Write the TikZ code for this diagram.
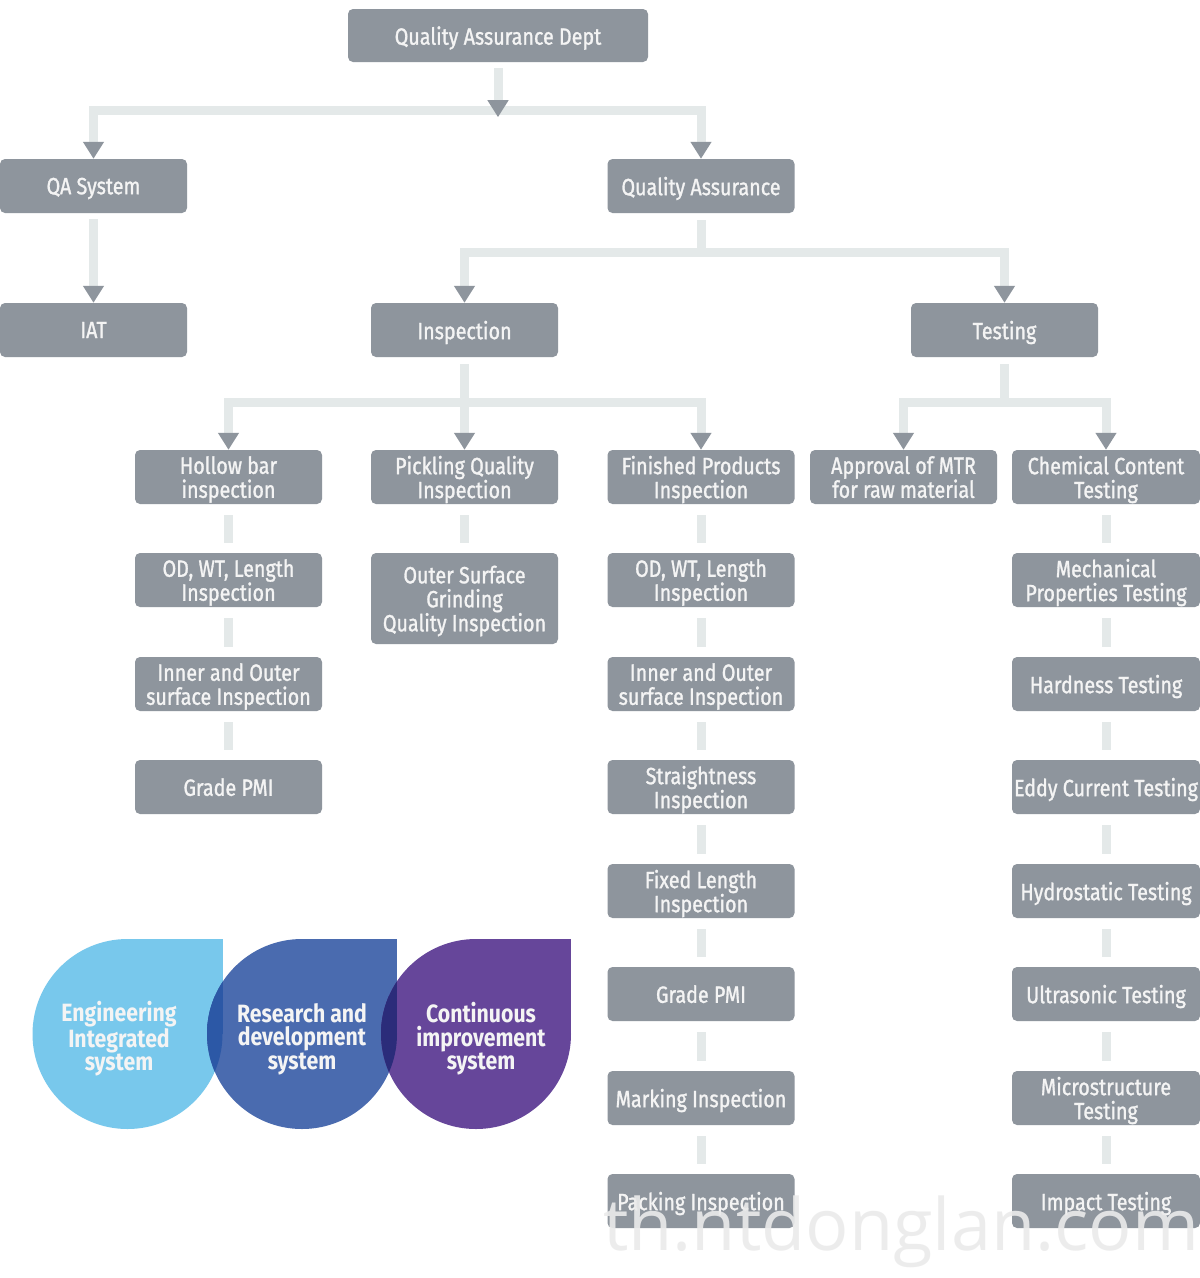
\documentclass[tikz,border=0pt]{standalone}
\usepackage{fontspec}
\setmainfont{Fira Sans}[FakeStretch=0.85]
\newfontfamily\boxfont{Fira Sans}[FakeStretch=0.84,FakeBold=1.2]
\newfontfamily\wmfont{Open Sans}
\usetikzlibrary{arrows.meta,calc}
\definecolor{boxgrey}{HTML}{8E959D}
\definecolor{conngrey}{HTML}{E4E9E9}
\definecolor{txtwhite}{HTML}{F4F4F4}
\definecolor{dropA}{HTML}{78C8EC}
\definecolor{dropB}{HTML}{4A6BAF}
\definecolor{dropC}{HTML}{66469A}
\definecolor{ovAB}{HTML}{2C58A6}
\definecolor{ovBC}{HTML}{2B2C7A}
\newcommand\tdropshape[3]{%
  \fill[#3] (#1,#2) circle[radius=95];
  \fill[#3] (#1,#2-95) rectangle (#1+95,#2);}
\begin{document}
\begin{tikzpicture}[x=1pt,y=-1pt,
  box/.style={fill=boxgrey, rounded corners=5pt, minimum width=187pt, minimum height=54pt,
    inner sep=0pt, align=center, text=txtwhite, text depth=0pt, font=\boxfont\fontsize{23.5}{24}\selectfont},
  conn/.style={draw=conngrey, line width=9pt},
  tipped/.style={-{Triangle[width=20pt,length=17pt,color=boxgrey]}},
  droptext/.style={align=center, text=txtwhite, font=\bfseries\fontsize{25}{23.5}\selectfont, inner sep=0pt},
]
\useasboundingbox (0,0) rectangle (1200,1278);
\fill[white] (0,0) rectangle (1200,1278);

% ---------- nodes ----------
\node[box, minimum width=300pt, minimum height=53pt] (top) at (498,35.5) {Quality Assurance Dept};
\node[box] (qasys) at (93.5,186) {QA System};
\node[box] (qa) at (701,186) {Quality Assurance};
\node[box] (iat) at (93.5,330) {IAT};
\node[box] (insp) at (464.5,330) {Inspection};
\node[box] (test) at (1004.5,330) {Testing};

\node[box] (hb1) at (228.5,477) {Hollow bar\\inspection};
\node[box] (hb2) at (228.5,580) {OD, WT, Length\\Inspection};
\node[box] (hb3) at (228.5,684) {Inner and Outer\\surface Inspection};
\node[box] (hb4) at (228.5,787) {Grade PMI};

\node[box] (pk1) at (464.5,477) {Pickling Quality\\Inspection};
\node[box, minimum height=91pt] (pk2) at (464.5,598.5) {Outer Surface\\Grinding\\Quality Inspection};

\node[box] (fp1) at (701,477) {Finished Products\\Inspection};
\node[box] (fp2) at (701,580) {OD, WT, Length\\Inspection};
\node[box] (fp3) at (701,684) {Inner and Outer\\surface Inspection};
\node[box] (fp4) at (701,787) {Straightness\\Inspection};
\node[box] (fp5) at (701,891) {Fixed Length\\Inspection};
\node[box] (fp6) at (701,994) {Grade PMI};
\node[box] (fp7) at (701,1098) {Marking Inspection};
\node[box] (fp8) at (701,1201) {Packing Inspection};

\node[box] (mtr) at (903.5,477) {Approval of MTR\\for raw material};

\node[box, minimum width=188pt] (ch1) at (1106,477) {Chemical Content\\Testing};
\node[box, minimum width=188pt] (ch2) at (1106,580) {Mechanical\\Properties Testing};
\node[box, minimum width=188pt] (ch3) at (1106,684) {Hardness Testing};
\node[box, minimum width=188pt] (ch4) at (1106,787) {Eddy Current Testing};
\node[box, minimum width=188pt] (ch5) at (1106,891) {Hydrostatic Testing};
\node[box, minimum width=188pt] (ch6) at (1106,994) {Ultrasonic Testing};
\node[box, minimum width=188pt] (ch7) at (1106,1098) {Microstructure\\Testing};
\node[box, minimum width=188pt] (ch8) at (1106,1201) {Impact Testing};

% ---------- connectors ----------
\coordinate (bar1) at ($(top.south)+(0,48)$);
\draw[conn,tipped] (bar1) -| (qasys.north);
\draw[conn,tipped] (bar1) -| (qa.north);
\draw[conn,tipped,shorten <=6pt,shorten >=-7pt] (top.south) -- (bar1);

\draw[conn,tipped,shorten <=6pt] (qasys.south) -- (iat.north);

\coordinate (bar2) at ($(qa.south)+(0,39)$);
\draw[conn,shorten <=7pt] (qa.south) -- (bar2);
\draw[conn,tipped] (bar2) -| (insp.north);
\draw[conn,tipped] (bar2) -| (test.north);

\coordinate (bar3) at ($(insp.south)+(0,45)$);
\draw[conn,shorten <=7pt] (insp.south) -- (bar3);
\draw[conn,tipped] (bar3) -| (hb1.north);
\draw[conn,tipped] (bar3) -- (pk1.north);
\draw[conn,tipped] (bar3) -| (fp1.north);

\coordinate (bar4) at ($(test.south)+(0,45)$);
\draw[conn,shorten <=7pt] (test.south) -- (bar4);
\draw[conn,tipped] (bar4) -| (mtr.north);
\draw[conn,tipped] (bar4) -| (ch1.north);

\foreach \a/\b in {hb1/hb2,hb2/hb3,hb3/hb4,pk1/pk2,
  fp1/fp2,fp2/fp3,fp3/fp4,fp4/fp5,fp5/fp6,fp6/fp7,fp7/fp8,
  ch1/ch2,ch2/ch3,ch3/ch4,ch4/ch5,ch5/ch6,ch6/ch7,ch7/ch8}
  \draw[conn,shorten <=11pt,shorten >=10pt] (\a.south) -- (\b.north);

% ---------- drops ----------
\tdropshape{127.5}{1034}{dropA}
\tdropshape{302}{1034}{dropB}
\tdropshape{476}{1034}{dropC}
\begin{scope}
  \clip (302,1034) circle[radius=95];
  \fill[ovAB] (127.5,1034) circle[radius=95];
  \fill[ovAB] (127.5,939) rectangle (222.5,1034);
\end{scope}
\begin{scope}
  \clip (476,1034) circle[radius=95];
  \fill[ovBC] (302,1034) circle[radius=95];
  \fill[ovBC] (302,939) rectangle (397,1034);
\end{scope}
\node[droptext] (d1) at (119,1039) {Engineering\\Integrated\\system};
\node[droptext] (d2) at (302,1039) {Research and\\development\\system};
\node[droptext] (d3) at (481,1039) {Continuous\\improvement\\system};

% ---------- watermark ----------
\node[anchor=base west, inner sep=0pt, text=black!8, opacity=0.9,
  font=\wmfont\fontsize{72}{72}\selectfont] (wm) at (603,1250) {th.ntdonglan.com};
\end{tikzpicture}
\end{document}
